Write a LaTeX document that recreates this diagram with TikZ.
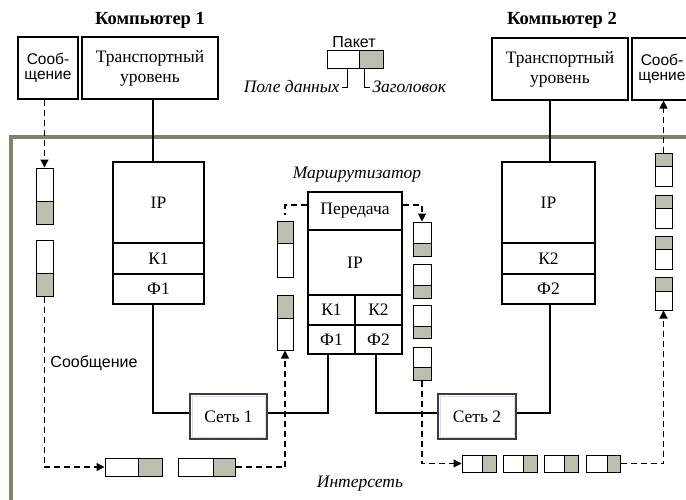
\documentclass[tikz,border=0pt]{standalone}
\usepackage{fontspec}
\setmainfont{Liberation Serif}
\setsansfont{Liberation Sans}
\usetikzlibrary{arrows.meta}
\definecolor{pktgray}{RGB}{190,190,174}
\definecolor{framec}{RGB}{130,130,104}
\definecolor{netin}{RGB}{210,222,245}
\definecolor{netborder}{RGB}{60,60,60}
\newcommand\myserif{\fontsize{17.5}{20}\selectfont}
\newcommand\mybold{\fontsize{18.5}{20}\selectfont\bfseries}
\newcommand\mysans{\fontsize{16}{14}\selectfont\sffamily}
\newcommand\mymsg{\fontsize{15.5}{15.5}\selectfont\sffamily}
\newcommand\myital{\fontsize{17.5}{19}\selectfont\itshape}
\newcommand\mkpv[8]{%
\node[#7, minimum width=#3pt, minimum height=#5pt] (#1a) at (#2,{#4+#5/2}) {};
\node[#8, minimum width=#3pt, minimum height=#6pt] (#1b) at (#2,{#4+#5+#6/2}) {};}
\newcommand\mkph[8]{%
\node[#7, minimum width=#4pt, minimum height=#6pt] (#1a) at ({#2+#4/2},#3) {};
\node[#8, minimum width=#5pt, minimum height=#6pt] (#1b) at ({#2+#4+#5/2},#3) {};}
\begin{document}
\begin{tikzpicture}[x=1pt,y=-1pt,
  box/.style={draw, line width=1.1pt, fill=white, inner sep=0pt, font=\myserif, align=center},
  pw/.style={draw, line width=1pt, fill=white, inner sep=0pt},
  pg/.style={draw, line width=1pt, fill=pktgray, inner sep=0pt},
  net/.style={draw=netborder, line width=1.6pt, fill=white, inner sep=0pt, font=\myserif,
    path picture={\draw[netin, line width=0.8pt] ([shift={(2pt,-2pt)}]path picture bounding box.north west) rectangle ([shift={(-2pt,2pt)}]path picture bounding box.south east);}},
  wire/.style={line width=1.1pt},
  flow/.style={line width=1.1pt, dash pattern=on 6pt off 4pt},
  arr/.style={-{Triangle[length=8pt,width=8pt]}},
  thinl/.style={line width=1pt}]
\useasboundingbox (0,0) rectangle (686,499);
% frame
\draw[framec, line width=3.2pt] (11,505) -- (11,137) -- (692,137);

% titles
\node[font=\mybold] (c1) at (150,20) {Компьютер 1};
\node[font=\mybold] (c2) at (562,20) {Компьютер 2};

% top boxes
\node[box, minimum width=60pt, minimum height=62pt, font=\mymsg] (msg1) at (48,68) {Сооб-\\щение};
\node[box, minimum width=136pt, minimum height=62pt] (tr1) at (150,68) {Транспортный\\уровень};
\node[box, minimum width=136pt, minimum height=62pt] (tr2) at (560,69) {Транспортный\\уровень};
\node[box, minimum width=60pt, minimum height=62pt, font=\mymsg] (msg2) at (662,69) {Сооб-\\щение};

% legend
\node[font=\mysans] (pk) at (354,42) {Пакет};
\node[pw, minimum width=32pt, minimum height=18pt] (lga) at (343,59) {};
\node[pg, minimum width=24pt, minimum height=18pt] (lgb) at (371,59) {};
\coordinate (lgl) at (347,87);
\coordinate (lgr) at (364,87);
\draw[thinl] (lga.south -| lgl) -- (lgl) -- ++(-5,0) node[anchor=east, font=\myital, inner sep=2pt] (lgt1) {Поле данных};
\draw[thinl] (lgb.south -| lgr) -- (lgr) -- ++(6,0) node[anchor=west, font=\myital, inner sep=2pt] (lgt2) {Заголовок};

% host 1 stack
\node[box, minimum width=91pt, minimum height=81pt] (ip1) at (158.5,202.5) {IP};
\node[box, minimum width=91pt, minimum height=31pt] (k1) at (158.5,258.5) {К1};
\node[box, minimum width=91pt, minimum height=30pt] (f1) at (158.5,289) {Ф1};

% host 2 stack
\node[box, minimum width=93pt, minimum height=81pt] (ip2) at (548.5,202.5) {IP};
\node[box, minimum width=93pt, minimum height=31pt] (k2) at (548.5,258.5) {К2};
\node[box, minimum width=93pt, minimum height=30pt] (f2) at (548.5,289) {Ф2};

% router
\node[font=\myital] (rlab) at (357,175) {Маршрутизатор};
\node[box, minimum width=94pt, minimum height=38pt] (rpass) at (355,211) {Передача};
\node[box, minimum width=94pt, minimum height=65pt] (rip) at (355,262.5) {IP};
\node[box, minimum width=47pt, minimum height=30pt] (rk1) at (331.5,310) {К1};
\node[box, minimum width=47pt, minimum height=30pt] (rk2) at (378.5,310) {К2};
\node[box, minimum width=47pt, minimum height=29pt] (rf1) at (331.5,339.5) {Ф1};
\node[box, minimum width=47pt, minimum height=29pt] (rf2) at (378.5,339.5) {Ф2};

% networks
\node[net, minimum width=77pt, minimum height=45pt] (net1) at (228.5,416.5) {Сеть 1};
\node[net, minimum width=78pt, minimum height=45pt] (net2) at (477,416.5) {Сеть 2};

% labels
\node[font=\mysans] (msglab) at (94,363) {Сообщение};
\node[font=\myital] (inet) at (360,484) {Интерсеть};

% packets
\mkpv{p1}{44.5}{17}{168}{33}{23}{pw}{pg}
\mkpv{p2}{44.5}{17}{240}{33}{23}{pw}{pg}
\mkpv{q1}{285}{16}{221}{22}{34}{pg}{pw}
\mkpv{q2}{285}{16}{295}{23}{32}{pg}{pw}
\mkpv{r1}{422}{18}{222}{21}{13}{pw}{pg}
\mkpv{r2}{422}{18}{264}{21}{13}{pw}{pg}
\mkpv{r3}{422}{18}{305}{21}{12}{pw}{pg}
\mkpv{r4}{422}{18}{347}{20}{13}{pw}{pg}
\mkpv{s1}{663.5}{17}{153}{13}{20}{pg}{pw}
\mkpv{s2}{663.5}{17}{195}{13}{20}{pg}{pw}
\mkpv{s3}{663.5}{17}{236}{13}{20}{pg}{pw}
\mkpv{s4}{663.5}{17}{277}{14}{19}{pg}{pw}
\mkph{ha}{105}{467}{33}{24}{18}{pw}{pg}
\mkph{hb}{178}{467}{35}{22}{18}{pw}{pg}
\mkph{b1}{462}{463.5}{20}{14}{17}{pw}{pg}
\mkph{b2}{503}{463.5}{20}{14}{17}{pw}{pg}
\mkph{b3}{544}{463.5}{20}{14}{17}{pw}{pg}
\mkph{b4}{586}{463.5}{21}{13}{17}{pw}{pg}

% wires
\coordinate (l1) at (153,0);
\coordinate (l2) at (328,0);
\coordinate (l3) at (376,0);
\coordinate (l4) at (550,0);
\draw[wire] (tr1.south -| l1) -- (ip1.north -| l1);
\draw[wire] (tr2.south -| l4) -- (ip2.north -| l4);
\draw[wire] (f1.south -| l1) |- ([yshift=3.5pt]net1.west);
\draw[wire] (rf1.south -| l2) |- ([yshift=3.5pt]net1.east);
\draw[wire] (rf2.south -| l3) |- ([yshift=3.5pt]net2.west);
\draw[wire] (f2.south -| l4) |- ([yshift=3.5pt]net2.east);

% message flow
\draw[flow, arr] (p1a.north |- msg1.south) -- (p1a.north);
\draw[flow, arr] (p2b.south) |- (haa.west);
\draw[flow, arr] (hbb.east) -| (q2b.south);
\draw[flow] ([yshift=6pt]rpass.west) -| ([yshift=6pt]q1a.north);
\draw[flow, arr] ([yshift=6pt]rpass.east) -| (r1a.north);
\draw[flow, arr] (r4b.south) |- (b1a.west);
\draw[flow, arr] (b4b.east) -| (s4b.south);
\draw[flow, arr] (s1a.north) -- (s1a.north |- msg2.south);
\end{tikzpicture}
\end{document}
